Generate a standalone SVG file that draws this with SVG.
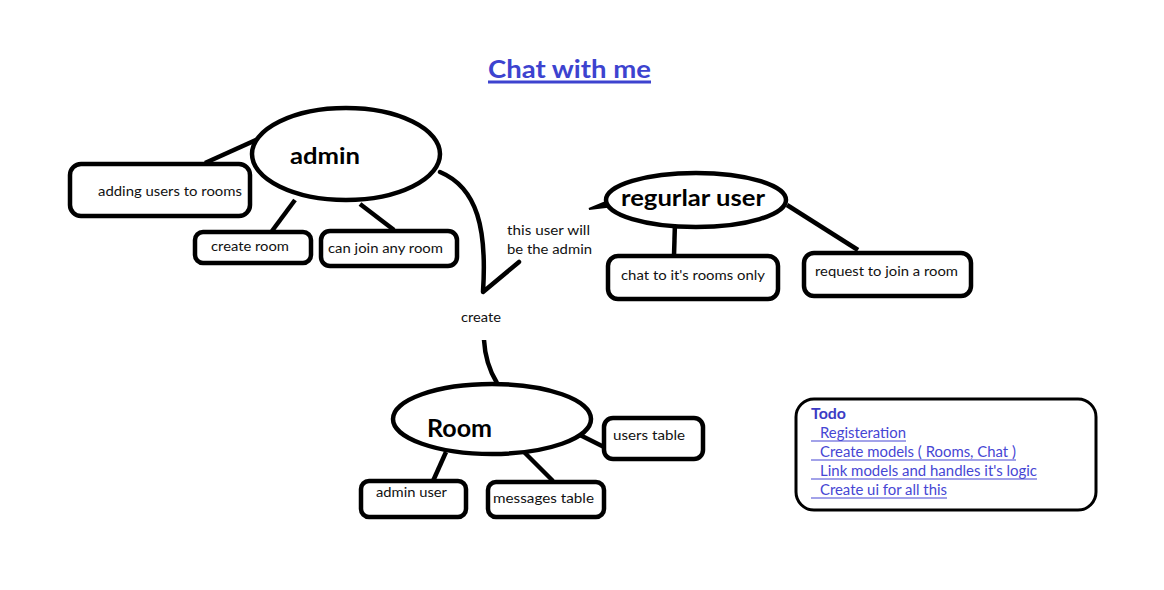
<svg xmlns="http://www.w3.org/2000/svg" width="1164" height="590" viewBox="0 0 1164 590">
<style>
.sh{fill:none;stroke:#000;stroke-width:4.5;stroke-linecap:round;stroke-linejoin:round}
.bx{fill:#fff;stroke:#000;stroke-width:4.5}
.ln{fill:none;stroke:#000;stroke-width:4.5;stroke-linecap:butt}
.t{font-family:Lato,"Open Sans",sans-serif;font-size:13.5px;fill:#111}
.b{font-family:Lato,"Open Sans",sans-serif;font-weight:bold;font-size:23px;fill:#000}
.todo{font-family:Lato,"Open Sans",sans-serif;font-size:14.5px;fill:#4646d4}
.ul{stroke:#4646d4;stroke-width:1.2}
</style>
<rect width="1164" height="590" fill="#fff"/>
<g id="title">
<text x="488" y="78" class="b" style="fill:#3d43cf;font-size:25px" textLength="163" lengthAdjust="spacingAndGlyphs">Chat with me</text>
<line x1="488" y1="82" x2="651" y2="82" stroke="#3d43cf" stroke-width="3"/>
</g>
<g id="connectors">
<line class="ln" x1="267" y1="135" x2="205" y2="163"/>
<line class="ln" x1="295" y1="200" x2="272" y2="231"/>
<line class="ln" x1="360" y1="204" x2="394" y2="230"/>
<path class="sh" d="M440,172 C478,188 487,230 483,292 L519,262"/>
<path d="M589,209 L606,202 L607,207 Z" fill="#000" stroke="#000" stroke-width="2"/>
<line class="ln" x1="675" y1="222" x2="674" y2="256"/>
<line class="ln" x1="787" y1="205" x2="858" y2="250"/>
<path class="ln" d="M484,340 C485,358 489,370 497,383"/>
<line class="ln" x1="580" y1="435" x2="604" y2="447"/>
<line class="ln" x1="446" y1="452" x2="433" y2="481"/>
<line class="ln" x1="524" y1="452" x2="553" y2="481"/>
</g>
<g id="admin">
<ellipse class="bx" cx="346" cy="154" rx="94" ry="46"/>
<text x="290" y="164" class="b" textLength="70" lengthAdjust="spacingAndGlyphs">admin</text>
</g>
<g id="adding-users">
<rect class="bx" x="70" y="164" width="180" height="52" rx="11"/>
<text x="98" y="196" class="t" textLength="144" lengthAdjust="spacingAndGlyphs">adding users to rooms</text>
</g>
<g id="create-room">
<rect class="bx" x="195" y="232" width="116" height="31" rx="8"/>
<text x="211" y="251" class="t" textLength="78" lengthAdjust="spacingAndGlyphs">create room</text>
</g>
<g id="can-join">
<rect class="bx" x="321" y="231" width="136" height="35" rx="9"/>
<text x="328" y="253" class="t" textLength="115" lengthAdjust="spacingAndGlyphs">can join any room</text>
</g>
<g id="note">
<text x="507" y="235" class="t" textLength="83" lengthAdjust="spacingAndGlyphs">this user will</text>
<text x="507" y="254" class="t" textLength="85" lengthAdjust="spacingAndGlyphs">be the admin</text>
</g>
<g id="create-label">
<text x="461" y="322" class="t" textLength="40" lengthAdjust="spacingAndGlyphs">create</text>
</g>
<g id="regular-user">
<ellipse class="bx" cx="696" cy="200" rx="90" ry="27"/>
<text x="621" y="206" class="b" textLength="144" lengthAdjust="spacingAndGlyphs">regurlar user</text>
</g>
<g id="chat-rooms">
<rect class="bx" x="608" y="256" width="170" height="43" rx="10"/>
<text x="621" y="280" class="t" textLength="144" lengthAdjust="spacingAndGlyphs">chat to it's rooms only</text>
</g>
<g id="request-join">
<rect class="bx" x="804" y="253" width="167" height="43" rx="10"/>
<text x="815" y="276" class="t" textLength="143" lengthAdjust="spacingAndGlyphs">request to join a room</text>
</g>
<g id="room">
<ellipse class="bx" cx="492" cy="419" rx="99" ry="35"/>
<text x="427" y="437" class="b" style="font-size:24px" textLength="65" lengthAdjust="spacingAndGlyphs">Room</text>
</g>
<g id="users-table">
<rect class="bx" x="604" y="418" width="99" height="41" rx="9"/>
<text x="613" y="440" class="t" textLength="72" lengthAdjust="spacingAndGlyphs">users table</text>
</g>
<g id="admin-user">
<rect class="bx" x="361" y="481" width="105" height="36" rx="8"/>
<text x="376" y="497" class="t" textLength="71" lengthAdjust="spacingAndGlyphs">admin user</text>
</g>
<g id="messages-table">
<rect class="bx" x="488" y="482" width="116" height="35" rx="8"/>
<text x="493" y="503" class="t" textLength="101" lengthAdjust="spacingAndGlyphs">messages table</text>
</g>
<g id="todo">
<rect x="796" y="399" width="300" height="111" rx="18" fill="#fff" stroke="#000" stroke-width="3"/>
<text x="811" y="419" class="todo" style="font-weight:bold;fill:#3b3bc4" textLength="35" lengthAdjust="spacingAndGlyphs">Todo</text>
<text x="820" y="438" class="todo" textLength="86" lengthAdjust="spacingAndGlyphs">Registeration</text>
<line class="ul" x1="811" y1="441" x2="906" y2="441"/>
<text x="820" y="457" class="todo" textLength="196" lengthAdjust="spacingAndGlyphs">Create models ( Rooms, Chat )</text>
<line class="ul" x1="811" y1="460" x2="1016" y2="460"/>
<text x="820" y="476" class="todo" textLength="217" lengthAdjust="spacingAndGlyphs">Link models and handles it's logic</text>
<line class="ul" x1="811" y1="479" x2="1037" y2="479"/>
<text x="820" y="495" class="todo" textLength="127" lengthAdjust="spacingAndGlyphs">Create ui for all this</text>
<line class="ul" x1="811" y1="498" x2="947" y2="498"/>
</g>
</svg>
